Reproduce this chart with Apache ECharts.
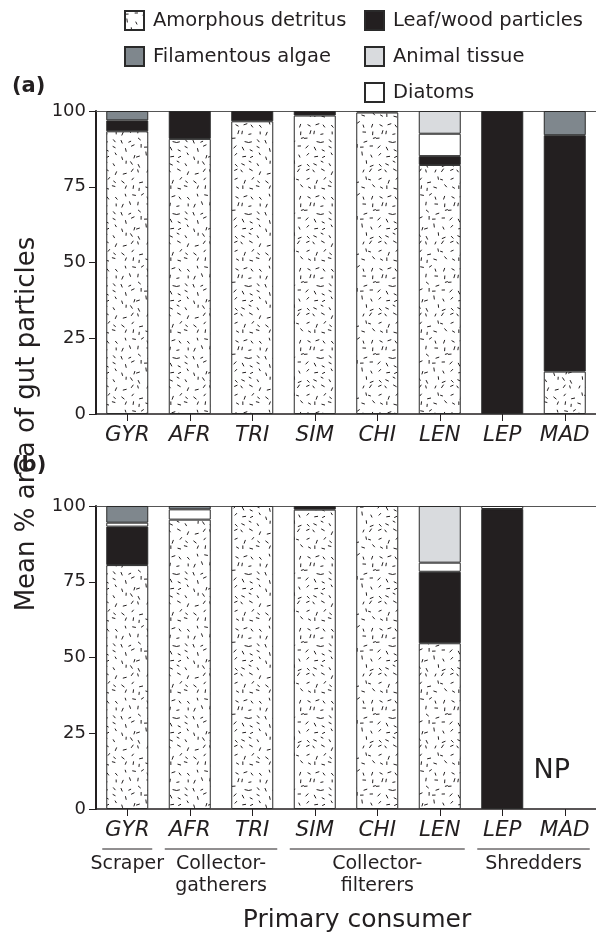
<!DOCTYPE html>
<html>
<head>
<meta charset="utf-8">
<script src="https://cdn.jsdelivr.net/npm/echarts@6/dist/echarts.min.js"></script>
<style>
  html, body { margin: 0; padding: 0; background: #fff; }
  #chart { width: 596px; height: 932px; }
</style>
</head>
<body>
<div id="chart"></div>
<script>
// ---------------- data ----------------
const categories = ['GYR', 'AFR', 'TRI', 'SIM', 'CHI', 'LEN', 'LEP', 'MAD'];
const componentNames = ['Amorphous detritus', 'Leaf/wood particles', 'Diatoms', 'Animal tissue', 'Filamentous algae'];

// panel (a)
const amorphousA = [93.3, 90.8, 96.6, 98.5, 99.5, 82.2, 0, 14.0];
const leafA      = [3.6, 9.2, 3.4, 1.5, 0.5, 2.9, 100, 78.0];
const diatomsA   = [0, 0, 0, 0, 0, 7.4, 0, 0];
const animalA    = [0, 0, 0, 0, 0, 7.5, 0, 0];
const algaeA     = [3.1, 0, 0, 0, 0, 0, 0, 8.0];

// panel (b)  (MAD not present: NP)
const amorphousB = [80.5, 95.5, 100, 98.8, 100, 54.7, 0, null];
const leafB      = [12.7, 0, 0, 1.2, 0, 23.6, 99.0, null];
const diatomsB   = [1.3, 3.4, 0, 0, 0, 3.0, 1.0, null];
const animalB    = [0, 0, 0, 0, 0, 18.7, 0, null];
const algaeB     = [5.5, 1.1, 0, 0, 0, 0, 0, null];

const groupNames   = ['Scraper', 'Collector-\ngatherers', 'Collector-\nfilterers', 'Shredders'];
const groupMembers = [['GYR'], ['AFR', 'TRI'], ['SIM', 'CHI', 'LEN'], ['LEP', 'MAD']];
const notPresentLabel = 'NP';
const notPresentCategory = 'MAD';

// ---------------- styles ----------------
const INK = '#231f20';
const FONT = '"DejaVu Sans", "Liberation Sans", sans-serif';

// speckled texture for amorphous detritus (short dashes, deterministic layout)
function makeSpeckle() {
  const size = 72;
  const c = document.createElement('canvas');
  c.width = size; c.height = size;
  const ctx = c.getContext('2d');
  ctx.fillStyle = '#ffffff';
  ctx.fillRect(0, 0, size, size);
  ctx.strokeStyle = INK;
  ctx.lineWidth = 1;
  let s = 2024;
  const rnd = () => { s = (s * 1103515245 + 12345) % 2147483648; return s / 2147483648; };
  const step = 8;
  for (let gy = 0; gy < size; gy += step) {
    for (let gx = 0; gx < size; gx += step) {
      const cx = gx + 1.5 + rnd() * (step - 3);
      const cy = gy + 1.5 + rnd() * (step - 3);
      const ang = rnd() * Math.PI;
      const len = 2.8 + rnd() * 1.2;
      const dx = Math.cos(ang) * len / 2, dy = Math.sin(ang) * len / 2;
      ctx.beginPath();
      ctx.moveTo(cx - dx, cy - dy);
      ctx.lineTo(cx + dx, cy + dy);
      ctx.stroke();
    }
  }
  return c;
}
const speckle = makeSpeckle();

const fills = {
  'Amorphous detritus': { image: speckle, repeat: 'repeat' },
  'Leaf/wood particles': INK,
  'Diatoms': '#ffffff',
  'Animal tissue': '#d9dbde',
  'Filamentous algae': '#7f878d'
};

const panelData = [
  [amorphousA, leafA, diatomsA, animalA, algaeA],
  [amorphousB, leafB, diatomsB, animalB, algaeB]
];

const grids = [
  { left: 96, top: 111, width: 500, height: 303 },
  { left: 96, top: 506, width: 500, height: 303 }
];

const xAxes = [];
const yAxes = [];
grids.forEach((g, i) => {
  xAxes.push({
    type: 'category', gridIndex: i, data: categories, position: 'bottom',
    axisLine: { show: true, lineStyle: { color: INK, width: 1.5 } },
    axisTick: { show: true, alignWithLabel: true, length: 7, lineStyle: { color: INK, width: 1 } },
    axisLabel: { interval: 0, color: INK, fontFamily: FONT, fontSize: 21.5, fontStyle: 'italic', margin: 10 },
    splitLine: { show: false }
  });
  yAxes.push({
    type: 'value', gridIndex: i, min: 0, max: 100, interval: 25,
    axisLine: { show: true, lineStyle: { color: INK, width: 2 } },
    axisTick: { show: true, length: 7, lineStyle: { color: INK, width: 1 } },
    axisLabel: { color: INK, fontFamily: FONT, fontSize: 18, margin: 10 },
    splitLine: { show: false }
  });
});
// top frame lines
grids.forEach((g, i) => {
  xAxes.push({
    type: 'category', gridIndex: i, data: categories, position: 'top',
    axisLine: { show: true, lineStyle: { color: '#555', width: 1 } },
    axisTick: { show: false }, axisLabel: { show: false }, splitLine: { show: false }
  });
});

const series = [];
panelData.forEach((comps, p) => {
  comps.forEach((vals, k) => {
    const name = componentNames[k];
    series.push({
      name: name, type: 'bar', stack: 'panel' + p,
      xAxisIndex: p, yAxisIndex: p,
      barWidth: 42,
      data: vals.map(v => (v === 0 || v === null) ? '-' : v),
      itemStyle: { color: fills[name], borderColor: '#2a2a2a', borderWidth: 1 },
      emphasis: { disabled: true }
    });
  });
});

const legendText = { color: INK, fontFamily: FONT, fontSize: 19.5, lineHeight: 20, padding: [0, 0, 0, 4] };
const option = {
  animation: false,
  backgroundColor: '#ffffff',
  grid: grids,
  xAxis: xAxes,
  yAxis: yAxes,
  legend: [
    { orient: 'vertical', left: 124, top: 10, padding: 0, itemWidth: 19, itemHeight: 19, itemGap: 15, icon: 'rect',
      data: ['Amorphous detritus', 'Filamentous algae'], textStyle: legendText, selectedMode: false },
    { orient: 'vertical', left: 364, top: 10, padding: 0, itemWidth: 19, itemHeight: 19, itemGap: 15, icon: 'rect',
      data: ['Leaf/wood particles', 'Animal tissue', 'Diatoms'], textStyle: legendText, selectedMode: false }
  ],
  series: series
};

const chart = echarts.init(document.getElementById('chart'), null, { renderer: 'canvas' });
chart.setOption(option);

// ---------------- annotations positioned through the axes ----------------
const graphics = [];
const catX = (c) => chart.convertToPixel({ xAxisIndex: 1 }, c);
const axisYb = chart.convertToPixel({ yAxisIndex: 1 }, 0);

groupMembers.forEach((members, gi) => {
  const x0 = Math.max(catX(members[0]) - 25, 0);
  const x1 = Math.min(catX(members[members.length - 1]) + 25, 596);
  const ly = axisYb + 40;
  graphics.push({ type: 'line', shape: { x1: x0, y1: ly, x2: x1, y2: ly }, style: { stroke: INK, lineWidth: 1 } });
  graphics.push({ type: 'text', x: (x0 + x1) / 2, y: ly + 4,
    style: { text: groupNames[gi], fill: INK, font: '19px ' + FONT, align: 'center', verticalAlign: 'top', lineHeight: 22 } });
});

graphics.push({ type: 'text', x: 357, y: 920,
  style: { text: 'Primary consumer', fill: INK, font: '25px ' + FONT, align: 'center', verticalAlign: 'middle' } });
graphics.push({ type: 'text', x: 27, y: 424, rotation: Math.PI / 2,
  style: { text: 'Mean % area of gut particles', fill: INK, font: '26px ' + FONT, align: 'center', verticalAlign: 'middle' } });
graphics.push({ type: 'text', x: 12, y: 87,
  style: { text: '(a)', fill: INK, font: 'bold 21px ' + FONT, align: 'left', verticalAlign: 'middle' } });
graphics.push({ type: 'text', x: 12, y: 466,
  style: { text: '(b)', fill: INK, font: 'bold 21px ' + FONT, align: 'left', verticalAlign: 'middle' } });
const np = chart.convertToPixel({ xAxisIndex: 1, yAxisIndex: 1 }, [notPresentCategory, 12.5]);
graphics.push({ type: 'text', x: np[0] - 13, y: np[1],
  style: { text: notPresentLabel, fill: INK, font: '27px ' + FONT, align: 'center', verticalAlign: 'middle' } });

chart.setOption({ graphic: graphics });
</script>
</body>
</html>
